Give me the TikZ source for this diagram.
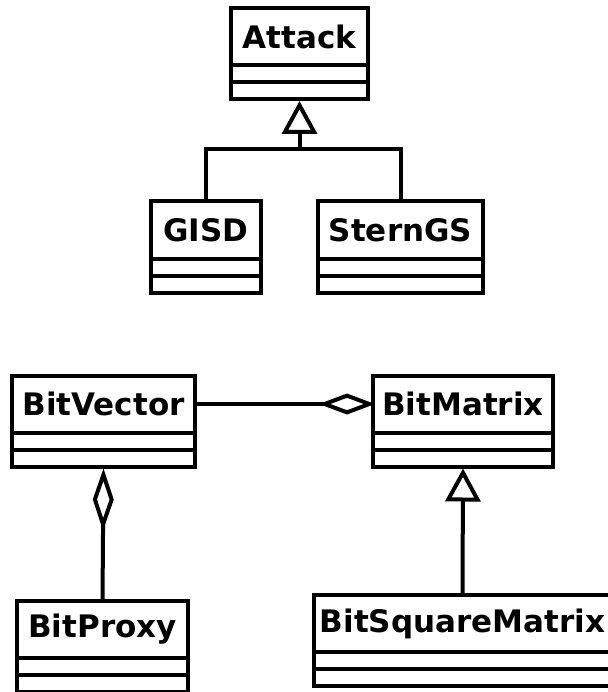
\documentclass[tikz,border=0pt]{standalone}
\usepackage{fontspec}
\setmainfont{DejaVu Sans}
\usetikzlibrary{arrows.meta}
\tikzset{
  classname/.style={draw, line width=4pt, minimum height=57pt, inner sep=0pt,
    outer sep=0pt, font=\fontsize{31}{37}\selectfont\bfseries},
  classbox/.style={draw, line width=4pt},
  assoc/.style={line width=4pt},
  inherit/.style={line width=4pt, -{Triangle[open, length=33pt, width=35pt]}},
  aggregate/.style={line width=4pt, -{Diamond[open, length=56pt, width=21pt]}},
}
\newcommand{\UmlClass}[4]{
  \node [classname, minimum width=#4pt] (#1) at (#2, #3) {#1};
  \draw [classbox] (#1.south west) rectangle ++(#4, 17);
  \draw [classbox] (#1.south west) ++(0, 17) rectangle ++(#4, 17);
  \path (#1.south) ++(0, 36) coordinate (#1-bottom);
}
\newcommand{\Inherit}[2]{
  \draw [inherit] (#2) -- (#1-bottom);
}
\begin{document}
\begin{tikzpicture}[x=1pt, y=-1pt]
        \useasboundingbox (0, 0) rectangle (607, 692);

        % Attack hierarchy
        \UmlClass{Attack}{299.5}{36.5}{137}
        \UmlClass{GISD}{206}{230}{110}
        \UmlClass{SternGS}{400.5}{230}{165}
        \path (Attack-bottom) ++(0, 48) coordinate (Attack-join);
        \draw [assoc] (GISD.north) |- (Attack-join) -| (SternGS.north);
        \Inherit{Attack}{Attack-join}

        % bit containers
        \UmlClass{BitVector}{103.5}{404}{183}
        \UmlClass{BitMatrix}{463}{404}{180}
        \UmlClass{BitProxy}{102.5}{629.5}{171}
        \UmlClass{BitSquareMatrix}{462.5}{623.5}{297}
        \draw [aggregate] (BitVector.east) -- ([xshift=2pt]BitMatrix.west);
        \draw [aggregate, -{Diamond[open, length=62pt, width=21pt]}] (BitProxy.north) -- (BitVector-bottom);
        \Inherit{BitMatrix}{BitSquareMatrix.north}

      \end{tikzpicture}
\end{document}
